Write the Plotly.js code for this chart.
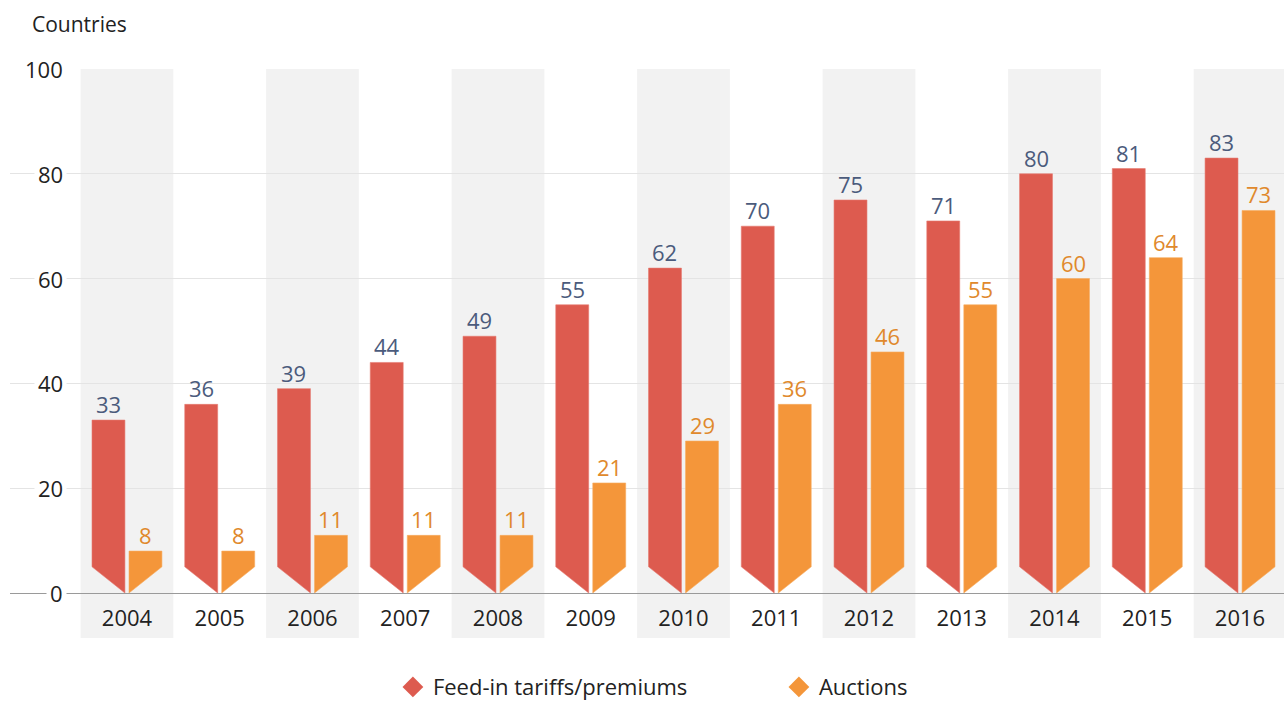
<!DOCTYPE html>
<html>
<head>
<meta charset="utf-8">
<script src="https://cdn.plot.ly/plotly-3.0.1.min.js"></script>
<style>html,body{margin:0;padding:0;background:#fff;}#chart{width:1284px;height:704px;}</style>
</head>
<body>
<div id="chart"></div>
<script>
const years = ['2004','2005','2006','2007','2008','2009','2010','2011','2012','2013','2014','2015','2016'];
const feedIn = [33,36,39,44,49,55,62,70,75,71,80,81,83];
const auctions = [8,8,11,11,11,21,29,36,46,55,60,64,73];
const yTicks = [0,20,40,60,80,100];
const seriesNames = ['Feed-in tariffs/premiums','Auctions'];

const RED = '#dd5b4f', ORANGE = '#f4963a';
const RED_LABEL = '#4b5b7c', ORANGE_LABEL = '#e0892c';
const FONT = 'Open Sans, sans-serif';
const CUT = 5;           // height of the pointed bottom (axis units)
const IN = 0.022, OUT = 0.377;

function redPoly(vals){
  const xs=[], ys=[];
  vals.forEach((v,i)=>{
    const x0=i-OUT, x1=i-IN;
    xs.push(x0,x0,x1,x1,x0,null); ys.push(v,CUT,0,v,v,null);
  });
  return {xs,ys};
}
function orangePoly(vals){
  const xs=[], ys=[];
  vals.forEach((v,i)=>{
    const x0=i+IN, x1=i+OUT;
    xs.push(x0,x0,x1,x1,x0,null); ys.push(v,0,CUT,v,v,null);
  });
  return {xs,ys};
}
const rp = redPoly(feedIn), op = orangePoly(auctions);
const idx = years.map((_,i)=>i);
const mid = (OUT+IN)/2;

const traces = [
  {x: rp.xs, y: rp.ys, type:'scatter', mode:'lines', fill:'toself', fillcolor:RED,
   line:{width:0.6,color:'#e57a70'}, showlegend:false, hoverinfo:'skip'},
  {x: op.xs, y: op.ys, type:'scatter', mode:'lines', fill:'toself', fillcolor:ORANGE,
   line:{width:0.6,color:'#f6ad62'}, showlegend:false, hoverinfo:'skip'},
  {x:[null], y:[null], type:'scatter', mode:'markers', name:seriesNames[0],
   marker:{symbol:'diamond', size:18, color:RED}},
  {x:[null], y:[null], type:'scatter', mode:'markers', name:seriesNames[1],
   marker:{symbol:'diamond', size:18, color:ORANGE}}
];

const shapes = [];
years.forEach((y,i)=>{
  if(i%2===0){
    shapes.push({type:'rect', xref:'x', yref:'paper', x0:i-0.5, x1:i+0.5, y0:-0.0859, y1:1,
      fillcolor:'#f2f2f2', line:{width:0}, layer:'below'});
  }
});

const annotations = yTicks.map(t=>({
  xref:'x', yref:'y', x:-0.647, y:t, xanchor:'right', yanchor:'middle',
  text:String(t), showarrow:false, bgcolor:'#ffffff', borderpad:3,
  font:{family:FONT, size:22, color:'#222'}
}));
feedIn.forEach((v,i)=>annotations.push({xref:'x', yref:'y', x:i-mid, y:v, xanchor:'center', yanchor:'middle',
  yshift:16, text:String(v), showarrow:false, font:{family:FONT, size:22, color:RED_LABEL}}));
auctions.forEach((v,i)=>annotations.push({xref:'x', yref:'y', x:i+mid, y:v, xanchor:'center', yanchor:'middle',
  yshift:16, text:String(v), showarrow:false, font:{family:FONT, size:22, color:ORANGE_LABEL}}));
annotations.push({xref:'paper', yref:'paper', x:0.0157, y:1.086, xanchor:'left', yanchor:'middle',
  text:'Countries', showarrow:false, font:{family:FONT, size:21, color:'#222'}});

const layout = {
  width:1284, height:704,
  margin:{l:10, r:0, t:69, b:111},
  paper_bgcolor:'#ffffff', plot_bgcolor:'rgba(0,0,0,0)',
  font:{family:FONT, size:22, color:'#222'},
  xaxis:{type:'linear', range:[-1.261,12.474], tickvals:idx, ticktext:years,
    showgrid:false, zeroline:false, showline:true, linecolor:'#9a9a9a', linewidth:1,
    ticks:'', ticklabelstandoff:6, tickfont:{family:FONT,size:22,color:'#222'}, fixedrange:true},
  yaxis:{range:[0,100], tickvals:yTicks, showticklabels:false, showgrid:true,
    gridcolor:'#e4e4e4', gridwidth:1, zeroline:false, showline:false, ticks:'', fixedrange:true},
  shapes: shapes,
  annotations: annotations,
  showlegend:true,
  legend:{orientation:'h', xref:'container', yref:'container', x:0.306, xanchor:'left', y:0.024, yanchor:'middle',
    font:{family:FONT,size:22,color:'#222'}, entrywidth:341, entrywidthmode:'pixels',
    bgcolor:'rgba(0,0,0,0)'}
};

Plotly.newPlot('chart', traces, layout, {displayModeBar:false, staticPlot:true});
</script>
</body>
</html>
